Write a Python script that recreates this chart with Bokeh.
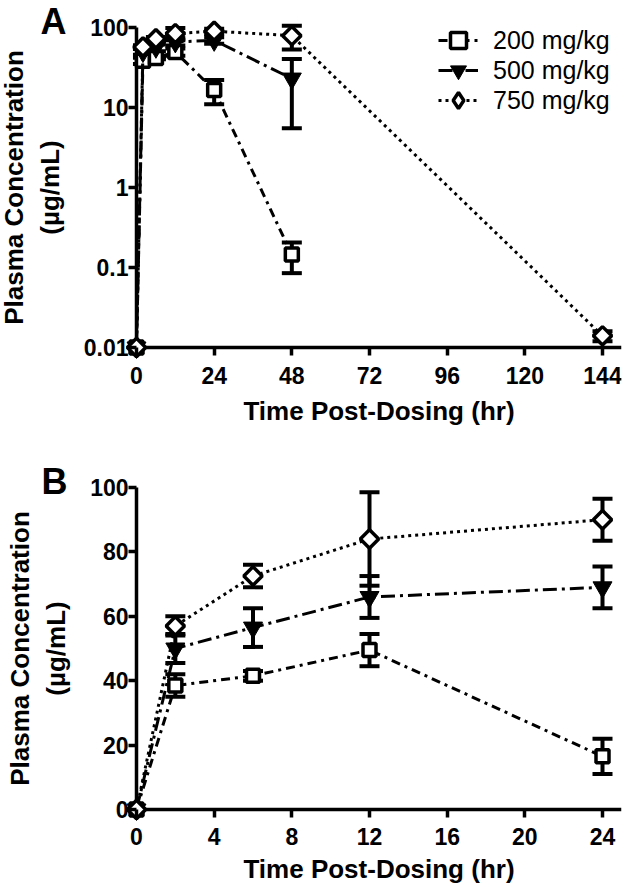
import numpy as np
from bokeh.plotting import figure
from bokeh.layouts import column
from bokeh.models import (Range1d, FixedTicker, Legend, LegendItem, Label,
                          Whisker, TeeHead, ColumnDataSource)
from bokeh.embed import file_html
from bokeh.resources import INLINE

# ---------------- data ----------------
doses = ["200 mg/kg", "500 mg/kg", "750 mg/kg"]

# Panel A (log scale, 0 plotted at the 0.01 floor)
time_a_200 = [0, 2, 6, 12, 24, 48]
mean_a_200 = [0.01, 38.5, 41.5, 49.5, 16.5, 0.145]
sd_a_200 = [0, 3.5, 1.5, 5.0, 5.5, 0.06]

time_a_500 = [0, 2, 6, 12, 24, 48]
mean_a_500 = [0.01, 50.0, 56.5, 66.0, 69.0, 23.0]
sd_a_500 = [0, 4.5, 6.0, 6.5, 6.5, 17.5]

time_a_750 = [0, 2, 6, 12, 24, 48, 144]
mean_a_750 = [0.01, 57.0, 72.5, 84.0, 90.0, 79.0, 0.014]
sd_a_750 = [0, 3.0, 3.5, 14.5, 6.5, 26.0, 0.002]

# Panel B (linear scale)
time_b = [0, 2, 6, 12, 24]
mean_b_200 = [0, 38.5, 41.5, 49.5, 16.5]
sd_b_200 = [0, 3.5, 1.5, 5.0, 5.5]
mean_b_500 = [0, 50.0, 56.5, 66.0, 69.0]
sd_b_500 = [0, 4.5, 6.0, 6.5, 6.5]
mean_b_750 = [0, 57.0, 72.5, 84.0, 90.0]
sd_b_750 = [0, 3.0, 3.5, 14.5, 6.5]

xticks_a = [0, 24, 48, 72, 96, 120, 144]
yticks_a = [0.01, 0.1, 1, 10, 100]
ytick_labels_a = ["0.01", "0.1", "1", "10", "100"]
xticks_b = [0, 4, 8, 12, 16, 20, 24]
yticks_b = [0, 20, 40, 60, 80, 100]

x_title = "Time Post-Dosing (hr)"
y_title = "Plasma Concentration\n(µg/mL)"
panel_labels = ["A", "B"]

# ---------------- styles ----------------
FONT = "Liberation Sans"
dash_styles = ["9 5 3 5", "14 5 3 5", "3 4"]
marker_kw = [
    dict(marker="square", size=13, fill_color="white", line_color="black", line_width=3.5, angle=0),
    dict(marker="inverted_triangle", size=19, fill_color="black", line_color="black", line_width=1, angle=0),
    dict(marker="square", size=13, fill_color="white", line_color="black", line_width=3.5, angle=np.pi / 4),
]

W = 624
AXIS_X = 136  # page x of the y axis (x = 0)


def make_fig(height, xr, yr, ytype, xt, yt, tick_standoff, title_standoff):
    # the frame fills the whole canvas; axes sit at fixed data locations inside it
    p = figure(width=W, height=height, x_range=Range1d(*xr), y_range=Range1d(*yr),
               y_axis_type=ytype, output_backend="svg", toolbar_location=None,
               min_border_left=0, min_border_right=3, min_border_top=0,
               min_border_bottom=0)
    p.outline_line_color = None
    p.grid.visible = False
    for ax in p.axis:
        ax.axis_line_alpha = 0
        ax.major_tick_line_width = 3.5
        ax.major_tick_line_color = "black"
        ax.minor_tick_line_color = None
        ax.major_tick_in = 0
        ax.major_tick_out = 8
        ax.major_label_text_font = FONT
        ax.major_label_text_font_style = "bold"
        ax.major_label_text_font_size = "23px"
        ax.major_label_text_color = "black"
        ax.axis_label_text_font = FONT
        ax.axis_label_text_font_style = "bold"
        ax.axis_label_text_font_size = "26px"
        ax.axis_label_text_color = "black"
    p.xaxis.fixed_location = yt[0]
    p.yaxis.fixed_location = xt[0]
    p.xaxis.bounds = (xt[0], xr[1])
    p.yaxis.bounds = (yt[0], yt[-1])
    p.xaxis.major_label_standoff = tick_standoff
    p.yaxis.major_label_standoff = 0
    p.xaxis.axis_label_standoff = title_standoff
    p.yaxis.axis_label_standoff = 16
    p.xaxis.axis_label = x_title
    p.yaxis.axis_label = y_title
    return p


def add_series(p, t, m, s, i, legend_diamond=False):
    src = ColumnDataSource(dict(x=t, y=m))
    ln = p.line("x", "y", source=src, line_color="black", line_width=3, line_dash=dash_styles[i])
    idx = [k for k in range(len(t)) if s[k] > 0]
    wsrc = ColumnDataSource(dict(base=[t[k] for k in idx],
                                 upper=[m[k] + s[k] for k in idx],
                                 lower=[m[k] - s[k] for k in idx]))
    w = Whisker(source=wsrc, base="base", upper="upper", lower="lower",
                line_width=4, line_color="black",
                upper_head=TeeHead(size=20, line_width=4, line_color="black"),
                lower_head=TeeHead(size=20, line_width=4, line_color="black"))
    p.add_layout(w)
    swatch = None
    if legend_diamond:
        # zero-size diamond: invisible in the plot, used as the legend swatch
        swatch = p.scatter("x", "y", source=src, marker="diamond", size=0,
                           fill_color="white", line_color="black", line_width=3.5)
    sc = p.scatter("x", "y", source=src, **marker_kw[i])
    return ln, (swatch if swatch is not None else sc)


def axis_lines(p, xt, yt, x_end):
    p.segment(x0=[xt[0]], y0=[yt[0]], x1=[xt[0]], y1=[yt[-1]], line_color="black", line_width=3.5)
    p.segment(x0=[xt[0]], y0=[yt[0]], x1=[x_end], y1=[yt[0]], line_color="black", line_width=3.5)


def panel_label(p, text, x, y):
    p.add_layout(Label(x=x, y=y, x_units="screen", y_units="screen", text=text,
                       text_font=FONT, text_font_style="bold", text_font_size="36px",
                       text_baseline="top", text_align="left", text_color="black"))


# ---------------- panel A ----------------
HA = 431
ppx_a = 466 / 144
xa0 = -AXIS_X / ppx_a
xa1 = xa0 + (W - 3) / ppx_a
ya_top = 2 + 27 / 80          # 100 sits 27 px below the top
ya_bot = ya_top - HA / 80     # 80 px per decade
pa = make_fig(HA, (xa0, xa1), (10 ** ya_bot, 10 ** ya_top), "log",
              xticks_a, yticks_a, 11, 9)
pa.xaxis.ticker = FixedTicker(ticks=xticks_a)
pa.yaxis.ticker = FixedTicker(ticks=yticks_a)
pa.yaxis.major_label_overrides = {t: l for t, l in zip(yticks_a, ytick_labels_a)}
axis_lines(pa, xticks_a, yticks_a, xa1)

series_a = [(time_a_200, mean_a_200, sd_a_200), (time_a_500, mean_a_500, sd_a_500),
            (time_a_750, mean_a_750, sd_a_750)]
legend_y = [HA - 60, HA - 90, HA - 120]
for i, (t, m, s) in enumerate(series_a):
    ln, sw = add_series(pa, t, m, s, i, legend_diamond=(i == 2))
    lg = Legend(items=[LegendItem(label=doses[i], renderers=[ln, sw])],
                location=(438, legend_y[i]), glyph_width=40, glyph_height=40,
                label_height=40, spacing=0, padding=0, margin=0, label_standoff=15,
                border_line_color=None, background_fill_alpha=0,
                label_text_font=FONT, label_text_font_size="25px", label_text_color="black")
    pa.add_layout(lg)
panel_label(pa, panel_labels[0], 40, HA)

# ---------------- panel B ----------------
HB = 888 - HA
ppx_b = 466 / 24
xb0 = -AXIS_X / ppx_b
xb1 = xb0 + (W - 3) / ppx_b
ppy_b = 322 / 100
yb0 = -(888 - 809) / ppy_b    # 0 sits at page y 809
yb1 = yb0 + HB / ppy_b
pb = make_fig(HB, (xb0, xb1), (yb0, yb1), "linear",
              xticks_b, yticks_b, 10, 6)
pb.xaxis.ticker = FixedTicker(ticks=xticks_b)
pb.yaxis.ticker = FixedTicker(ticks=yticks_b)
axis_lines(pb, xticks_b, yticks_b, xb1)

series_b = [(time_b, mean_b_200, sd_b_200), (time_b, mean_b_500, sd_b_500),
            (time_b, mean_b_750, sd_b_750)]
for i, (t, m, s) in enumerate(series_b):
    add_series(pb, t, m, s, i)
panel_label(pb, panel_labels[1], 41, HB - (460 - HA))

layout = column(pa, pb, spacing=0)
open("out.html", "w").write(file_html(layout, INLINE))
